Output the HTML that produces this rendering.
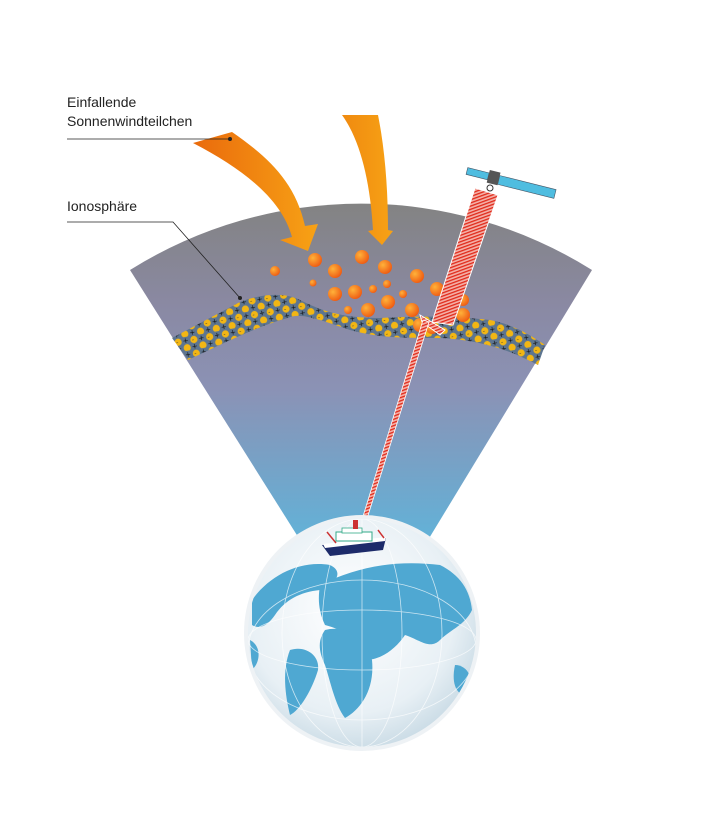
<!DOCTYPE html>
<html><head><meta charset="utf-8"><style>
html,body{margin:0;padding:0;background:#fff;width:709px;height:827px;overflow:hidden}
</style></head><body>
<svg width="709" height="827" viewBox="0 0 709 827" xmlns="http://www.w3.org/2000/svg">
<defs>
<linearGradient id="sky" x1="0" y1="205" x2="0" y2="540" gradientUnits="userSpaceOnUse">
<stop offset="0" stop-color="#838383"/>
<stop offset="0.3" stop-color="#8a89a3"/>
<stop offset="0.55" stop-color="#8b92b5"/>
<stop offset="1" stop-color="#62b2d8"/>
</linearGradient>
<radialGradient id="ball" cx="0.35" cy="0.35" r="0.7">
<stop offset="0" stop-color="#ffb23a"/><stop offset="1" stop-color="#ee5a12"/>
</radialGradient>
<linearGradient id="arr1" x1="0" y1="0" x2="1" y2="0">
<stop offset="0" stop-color="#ea6a0c"/><stop offset="1" stop-color="#f7a215"/>
</linearGradient>
<linearGradient id="arr2" x1="0" y1="0" x2="1" y2="0">
<stop offset="0" stop-color="#f08a10"/><stop offset="1" stop-color="#f7a215"/>
</linearGradient>
<pattern id="ions" width="16" height="14" patternUnits="userSpaceOnUse" patternTransform="rotate(-10)">
<rect width="16" height="14" fill="#5d7590"/>
<circle cx="4" cy="4" r="3.6" fill="#f2b614"/>
<text x="2" y="6" font-size="6" fill="#333" font-family="Liberation Sans">-</text>
<text x="9" y="7" font-size="9" fill="#111" font-family="Liberation Sans">+</text>
<circle cx="12" cy="11" r="3.6" fill="#f2b614"/>
<text x="1" y="14" font-size="9" fill="#111" font-family="Liberation Sans">+</text>
</pattern>
<pattern id="hatch" width="4" height="3" patternUnits="userSpaceOnUse" patternTransform="rotate(-20)">
<rect width="4" height="3" fill="#f4b0a8"/><rect width="4" height="1.3" fill="#e02a1a"/>
</pattern>
<radialGradient id="globe" cx="0.45" cy="0.4" r="0.65">
<stop offset="0" stop-color="#ffffff"/><stop offset="0.7" stop-color="#e8f0f5"/><stop offset="1" stop-color="#c5d8e3"/>
</radialGradient>
<clipPath id="gc"><circle cx="362" cy="633" r="114"/></clipPath>
</defs>

<path d="M130,270 A435,435 0 0 1 592,270 L428,540 L300,540 Z" fill="url(#sky)"/>

<path d="M172,338 L240,302 C260,294 285,292 300,300 C320,310 340,318 380,318 C420,316 450,316 490,320 C515,325 530,335 545,345 L538,365 C510,350 480,340 440,338 C400,338 380,338 350,330 C320,320 300,312 288,318 C260,325 220,345 188,360 Z" fill="url(#ions)"/>

<path d="M193,143 L232,132 C265,155 295,180 305,226 L318,224 L308,251 L280,240 L292,237 C282,200 245,170 193,143 Z" fill="url(#arr1)"/>
<path d="M342,115 L378,115 C385,150 388,190 388,230 L393,231 L382,245 L368,231 L373,230 C370,180 360,140 342,115 Z" fill="url(#arr2)"/>

<g fill="url(#ball)">
<circle cx="315" cy="260" r="7"/><circle cx="275" cy="271" r="5"/><circle cx="335" cy="271" r="7"/>
<circle cx="362" cy="257" r="7"/><circle cx="385" cy="267" r="7"/><circle cx="417" cy="276" r="7"/>
<circle cx="313" cy="283" r="3.5"/><circle cx="335" cy="294" r="7"/><circle cx="355" cy="292" r="7"/>
<circle cx="373" cy="289" r="4"/><circle cx="387" cy="284" r="4"/><circle cx="403" cy="294" r="4"/>
<circle cx="437" cy="289" r="7"/><circle cx="388" cy="302" r="7"/><circle cx="463" cy="300" r="6"/>
<circle cx="368" cy="310" r="7"/><circle cx="412" cy="310" r="7"/><circle cx="348" cy="310" r="4"/>
<circle cx="420" cy="325" r="7"/><circle cx="432" cy="328" r="6"/><circle cx="463" cy="315" r="7"/>
</g>

<path d="M475,188 L498,195 L453,325 L432,322 Z" fill="url(#hatch)" stroke="#fff" stroke-width="1"/>
<path d="M420,315 L445,330 L440,335 L422,322 Z" fill="url(#hatch)" stroke="#fff" stroke-width="1"/>
<path d="M423,320 L429,322 L365,525 L361,523 Z" fill="url(#hatch)" stroke="#fff" stroke-width="0.8"/>

<g transform="rotate(14 493 178)">
<rect x="466" y="174" width="22" height="7" fill="#4fbde0" stroke="#456" stroke-width="0.6"/>
<rect x="499" y="174" width="58" height="9" fill="#4fbde0" stroke="#456" stroke-width="0.6"/>
<rect x="488" y="171" width="11" height="13" fill="#555"/>
</g>
<circle cx="490" cy="188" r="3" fill="none" stroke="#333"/>

<circle cx="362" cy="633" r="118" fill="#eef2f5"/>
<circle cx="362" cy="633" r="114" fill="url(#globe)"/>
<g clip-path="url(#gc)" fill="#4fa8d2">
<path d="M252,600 C270,575 300,560 330,565 C345,572 335,585 320,590 C300,592 285,600 275,615 C268,625 260,630 252,625 Z"/>
<path d="M320,585 C360,565 400,560 440,565 C460,575 470,590 472,610 C465,625 450,630 440,640 C430,650 420,640 405,635 C395,650 380,660 365,660 C355,640 345,630 325,625 C318,610 318,598 320,585 Z"/>
<path d="M325,630 C345,625 365,635 372,660 C375,690 360,710 345,718 C335,705 330,680 325,665 C318,650 318,640 325,630 Z"/>
<path d="M290,650 C305,645 320,655 318,670 C312,690 300,710 290,715 C285,695 282,670 290,650 Z"/>
<path d="M455,665 C468,665 475,680 470,695 C460,698 450,688 455,665 Z"/>
<path d="M250,640 C260,645 262,660 252,670 Z"/>
</g>
<g clip-path="url(#gc)" fill="none" stroke="#fff" stroke-width="0.8" opacity="0.7">
<ellipse cx="362" cy="633" rx="40" ry="114"/><ellipse cx="362" cy="633" rx="80" ry="114"/>
<ellipse cx="362" cy="640" rx="114" ry="30"/><ellipse cx="362" cy="650" rx="114" ry="70"/>
<line x1="362" y1="519" x2="362" y2="747"/>
</g>

<path d="M322,545 L386,538 L383,550 L330,556 Z" fill="#1d2b6a"/>
<path d="M323,544 L386,537 L385,541 L325,548 Z" fill="#fff"/>
<rect x="336" y="532" width="36" height="9" fill="#fff" stroke="#3a8" stroke-width="1"/>
<rect x="342" y="528" width="20" height="5" fill="#fff" stroke="#3a8" stroke-width="0.8"/>
<rect x="353" y="520" width="5" height="9" fill="#c33"/>
<line x1="327" y1="532" x2="336" y2="543" stroke="#c33" stroke-width="1.5"/>
<line x1="378" y1="530" x2="384" y2="538" stroke="#c33" stroke-width="1.5"/>

<g font-family="Liberation Sans, sans-serif" font-size="14" fill="#222">
<text x="67" y="107">Einfallende</text>
<text x="67" y="126">Sonnenwindteilchen</text>
<text x="67" y="211">Ionosphäre</text>
</g>
<polyline points="67,139 230,139" fill="none" stroke="#222" stroke-width="0.8"/>
<circle cx="230" cy="139" r="2" fill="#222"/>
<polyline points="67,222 173,222 240,298" fill="none" stroke="#222" stroke-width="0.8"/>
<circle cx="240" cy="298" r="2" fill="#222"/>
</svg>
</body></html>
